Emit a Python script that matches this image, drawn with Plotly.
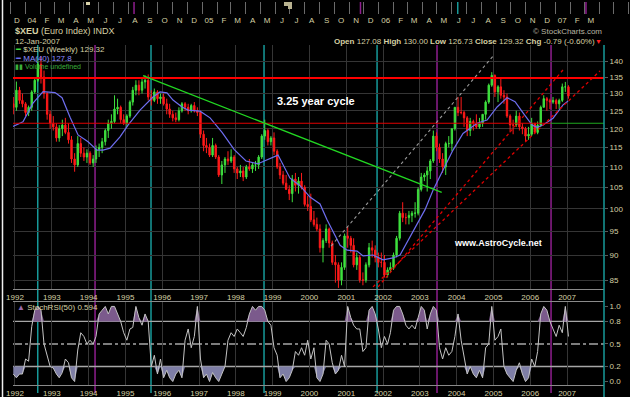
import plotly.graph_objects as go
import pandas as pd
from datetime import datetime

def yr(d):
    y = int(d)
    s = datetime(y, 1, 1)
    e = datetime(y + 1, 1, 1)
    return s + (e - s) * (d - y)

# ---------------- data ----------------
months = list(pd.date_range('1991-12-01', periods=182, freq='MS') + pd.Timedelta(days=14))

opens = [127,
 126,131,128,127,124.5,126,130.5,134,139,135,130,124,
 121.5,120.5,117.5,120,121,119,117,112,110.5,116,113.5,112.5,
 113.5,111,112,114.5,115,116.5,119.5,121.5,122,125.5,126,122.5,
 121.5,123.5,127.5,131,132.5,131,133.5,134,129,128,130.5,128.5,
 129,127,125.5,124,123,122.5,125,127,126,125,126.5,125,
 124.5,118.5,115.5,115,113,115.5,112.5,108,110.5,112,111.5,112.5,
 109.5,108.5,109,107.5,110,109.5,110.5,110.5,112.5,118,119.5,116.5,
 117.5,114,110,108,106,104.5,103.5,107,105.5,106.5,105,101,
 100.5,97.5,96.5,95.5,91.5,93,95.5,92.5,88.5,88,85,87.5,
 94,93.5,92,88,89.5,85,85,88,91.5,91,89.5,88.5,
 88.5,86,87,87.5,90,93.5,99,98,98,98.5,99,99,
 104.5,107.5,108,109,111.5,118,115,112,110,116,116,120,
 126,124.5,124.5,123,119.5,122,121.5,120.5,121.5,124,127.5,132.5,
 135.5,130.5,132,129.5,129,123.5,121,121,123.5,120.5,120,118,
 118.5,121.5,119,121,126,128.5,128,127.5,128,127,128,132,
 132]
highs = [129,
 133.6,132,130,127.5,126.5,131,135,140,141.5,137,130.5,125,
 123.5,121.5,121,122.5,123,121.5,118,113.5,118,117.5,115,114.5,
 114,113,115.5,116,117.5,120,122.5,124,129.5,128.5,126.5,124,
 124,128,132,134,134,134.5,135.5,135.8,131,131.5,131,130,
 130,128.5,127,125,124.5,126,127.5,127.5,127,127,127.5,126,
 125,119.5,117.5,116,117.5,116,113,111.5,112.5,114,114.5,113,
 110,110.5,110,110.5,112,111,111.5,113,118.5,122.5,120,118,
 119,114.5,111,109,108,105.5,108,108.5,107.5,108.5,105.5,103,
 103.5,99.5,98,96.5,93.5,96.5,95.8,93,90,88.5,88.5,94.5,
 96,94,93.5,90.5,90,86.5,88.5,92.5,93,92,90.5,90.5,
 90,87.5,88.5,90.5,94,99.5,101.5,99,99.5,99.5,101.5,105,
 108.5,108.5,110,112,119.5,119,116,113.5,116.5,118,120,126,
 129,129,125,123.5,123,122.5,124,123,124,128,133,136.5,
 135.8,132.5,134.5,131,130,124,122.5,125,124.5,121.5,120.5,120.5,
 123,121.5,122,126.5,129.5,129,128.5,129,128.5,128.5,133,133.5,
 132.5]
lows = [124,
 125,127,126,123.5,123.5,125,130,133.5,133,128.5,122.5,120,
 119.5,116.5,116.5,118,118.5,116,111,108.8,110,112.5,111.5,111,
 110.5,110,111,112.5,113.5,115.5,117.5,120,121.5,124,121.5,121,
 120.5,123,126.5,129.5,129.5,130,131.5,128,126.5,127.5,127,127,
 126.5,124,123,122,121.8,122,124.5,125,124,124.5,124.5,123.5,
 117.5,114,113.5,112.5,112.5,112,107.5,105.8,108.5,110.5,111,108.5,
 107,107.5,106.5,107,109,108.5,109,109.5,112,117,115.5,115.5,
 113,109.5,107,105.5,104.5,102,101.5,104,103.5,104.5,100.5,99.5,
 97,96,95,90.5,88.5,92.5,91.5,88,84.5,83.5,84,87,
 91.5,90.5,87.5,87,84.5,84,84.5,87.5,89.5,88.5,87.5,87.5,
 85.5,85.5,86.5,87,89.5,93,97,96.5,96.5,97,98,98.5,
 104,106.5,104,107,111,114,111,108.5,108,115,114,119.5,
 123.5,124,120.5,118,118,119.5,120,120,120.5,122.5,127,132,
 129,127.5,128.5,127,123,119,118.5,120.5,119.5,118.5,116.5,117,
 118,118.5,118.5,120.5,126,125,125.5,127,125.5,125.5,127.5,130.5,
 128.5]
closes = [126,
 131,128,127,124.5,126,130.5,134,139,135,130,124,121.5,
 120.5,117.5,120,121,119,117,112,110.5,116,113.5,112.5,113.5,
 111,112,114.5,115,116.5,119.5,121.5,122,125.5,126,122.5,121.5,
 123.5,127.5,131,132.5,131,133.5,134,129,128,130.5,128.5,129,
 127,125.5,124,123,122.5,125,127,126,125,126.5,125,124.5,
 118.5,115.5,115,113,115.5,112.5,108,110.5,112,111.5,112.5,109.5,
 108.5,109,107.5,110,109.5,110.5,110.5,112.5,118,119.5,116.5,117.5,
 114,110,108,106,104.5,103.5,107,105.5,106.5,105,101,100.5,
 97.5,96.5,95.5,91.5,93,95.5,92.5,88.5,88,85,87.5,94,
 93.5,92,88,89.5,85,85,88,91.5,91,89.5,88.5,88.5,
 86,87,87.5,90,93.5,99,98,98,98.5,99,99,104.5,
 107.5,108,109,111.5,118,115,112,110,116,116,120,126,
 124.5,124.5,123,119.5,122,121.5,120.5,121.5,124,127.5,132.5,135.5,
 130.5,132,129.5,129,123.5,121,121,123.5,120.5,120,118,118.5,
 121.5,119,121,126,128.5,128,127.5,128,127,128,132,132,
 129.3]

stoch_rsi = [0.10,
 0.05,0.10,0.10,0.30,0.27,0.73,0.95,1.00,0.95,0.50,0.35,0.20,
 0.18,0.10,0.05,0.12,0.30,0.25,0.05,0.00,0.42,0.65,0.60,0.50,
 0.55,0.50,0.60,0.90,0.95,1.00,0.90,1.00,1.00,0.90,0.80,0.65,
 0.55,0.70,0.72,1.00,0.85,0.75,0.90,0.80,0.20,0.35,0.10,0.30,
 0.05,0.15,0.05,0.00,0.10,0.15,0.05,0.55,0.70,0.45,0.60,1.00,
 0.30,0.05,0.10,0.00,0.12,0.05,0.00,0.10,0.20,0.55,0.65,0.60,
 0.70,0.65,0.60,0.72,0.90,1.00,0.95,1.00,1.00,0.95,0.80,0.75,
 0.45,0.35,0.05,0.10,0.00,0.05,0.15,0.40,0.35,0.45,0.35,0.55,
 0.30,0.45,0.05,0.00,0.10,0.55,0.50,0.25,0.10,0.15,0.35,0.20,
 1.00,0.85,0.75,0.70,0.70,0.40,0.45,0.95,1.00,0.90,0.70,0.45,
 0.60,0.50,0.65,0.95,1.00,1.00,0.90,0.75,0.70,0.75,0.70,0.85,
 1.00,0.95,0.70,0.90,1.00,0.95,0.45,0.30,0.45,0.35,0.40,0.60,
 0.90,0.55,0.35,0.10,0.20,0.10,0.05,0.15,0.05,0.45,0.50,1.00,
 0.55,0.60,0.70,0.20,0.10,0.05,0.00,0.15,0.25,0.10,0.00,0.05,
 0.30,0.20,0.40,0.90,1.00,0.95,0.80,0.70,0.60,0.75,0.65,1.00,
 0.60]

ma40_years = [1991.946,1992.217,1992.489,1992.761,1993.087,1993.277,1993.495,1993.712,
 1993.984,1994.228,1994.391,1994.582,1994.853,1995.071,1995.397,1995.750,1995.940,
 1996.130,1996.293,1996.538,1996.701,1997.027,1997.299,1997.625,1997.951,1998.277,
 1998.603,1998.875,1999.147,1999.473,1999.745,2000.016,2000.288,2000.478,2000.641,
 2000.832,2001.022,2001.293,2001.457,2001.728,2002.0,2002.272,2002.462,2002.815,
 2003.141,2003.359,2003.630,2003.902,2004.174,2004.554,2004.826,2005.098,2005.370,
 2005.587,2005.804,2006.049,2006.185,2006.348,2006.620,2006.891,2007.03]
ma40_values = [120.6,121.9,127.2,130.6,130.3,128.8,123.2,118.3,
 116.5,114.3,114.3,114.8,117.8,121.0,125.2,129.0,130.5,
 130.2,128.1,126.1,125.2,124.9,123.0,119.0,114.5,111.5,
 110.8,112.0,113.0,107.2,105.4,102.7,101.1,97.5,94.9,
 92.0,91.0,90.8,89.8,90.0,89.0,89.4,90.0,95.0,
 99.8,104.3,109.3,114.3,118.7,121.5,122.4,126.1,128.8,
 127.6,124.4,121.0,120.4,121.0,122.9,126.7,127.8]

green_trend_t = [1995.478, 2003.595]; green_trend_p = [135.4, 103.8]
gray_trend_t = [2000.587, 2004.989]; gray_trend_p = [91.85, 141.6]
red_a_t = [2001.864, 2006.891]; red_a_p = [83.7, 137.2]
red_b_t = [2001.728, 2007.897]; red_b_p = [83.7, 136.9]
resistance_level = 134.7
support_level = 121.5
support_red_end = 2006.55
teal_cycles = [1992.617, 1995.696, 1998.766, 2001.837]
purple_cycles = [1994.174, 2003.467, 2006.565]

year_ticks = [str(y) for y in range(1992, 2008)]
price_ticks = [85, 90, 95, 100, 105, 110, 115, 120, 125, 130, 135, 140]
osc_ticks = [0.0, 0.2, 0.5, 0.8, 1.0]
top_month_labels = ['D','04','F','M','A','M','J','J','A','S','O','N',
                    'D','05','F','M','A','M','J','J','A','S','O','N',
                    'D','06','F','M','A','M','J','J','A','S','O','N',
                    'D','07','F','M']

# ---------------- styling ----------------
BEIGE = '#d6d0a4'
GRID = '#353535'
TEAL = '#179a9a'
PURPLE = '#8e1e8e'
FONT = 'Liberation Sans'
W, H = 630, 397
X0, X1 = 13 / W, 604 / W
PY0, PY1 = 1 - 289 / H, 1 - 45 / H
OY0, OY1 = 1 - 385 / H, 1 - 301.7 / H
xr = [yr(1991.946), yr(2008.005)]

fig = go.Figure()

fig.add_trace(go.Candlestick(
    x=months, open=opens, high=highs, low=lows, close=closes,
    xaxis='x', yaxis='y', whiskerwidth=0,
    increasing=dict(line=dict(color='#3ee03e', width=1), fillcolor='#3ee03e'),
    decreasing=dict(line=dict(color='#ff1a1a', width=1), fillcolor='#ff1a1a'),
    hoverinfo='skip'))

fig.add_trace(go.Scatter(x=[yr(t) for t in ma40_years], y=ma40_values, mode='lines',
                         line=dict(color='#6e6ef0', width=1.2), xaxis='x', yaxis='y'))

fig.add_trace(go.Scatter(x=xr, y=[resistance_level] * 2, mode='lines',
                         line=dict(color='#ff0000', width=2), xaxis='x', yaxis='y'))
fig.add_trace(go.Scatter(x=[yr(support_red_end), xr[1]], y=[support_level] * 2, mode='lines',
                         line=dict(color='#1fa81f', width=1.2), xaxis='x', yaxis='y'))
fig.add_trace(go.Scatter(x=[xr[0], yr(support_red_end)], y=[support_level] * 2, mode='lines',
                         line=dict(color='#e00000', width=1.2), xaxis='x', yaxis='y'))

fig.add_trace(go.Scatter(x=[yr(t) for t in green_trend_t], y=green_trend_p, mode='lines',
                         line=dict(color='#22d822', width=1.3), xaxis='x', yaxis='y'))
fig.add_trace(go.Scatter(x=[yr(t) for t in gray_trend_t], y=gray_trend_p, mode='lines',
                         line=dict(color='#9a9a9a', width=1.1, dash='dot'), xaxis='x', yaxis='y'))
fig.add_trace(go.Scatter(x=[yr(t) for t in red_a_t], y=red_a_p, mode='lines',
                         line=dict(color='#e00000', width=1.3, dash='dot'), xaxis='x', yaxis='y'))
fig.add_trace(go.Scatter(x=[yr(t) for t in red_b_t], y=red_b_p, mode='lines',
                         line=dict(color='#e00000', width=1.3, dash='dot'), xaxis='x', yaxis='y'))

hi_part = [max(v, 0.8) for v in stoch_rsi]
lo_part = [min(v, 0.2) for v in stoch_rsi]
fig.add_trace(go.Scatter(x=months, y=[0.8] * len(months), mode='lines', line=dict(width=0),
                         xaxis='x2', yaxis='y2'))
fig.add_trace(go.Scatter(x=months, y=hi_part, mode='lines', line=dict(width=0), fill='tonexty',
                         fillcolor='#7b5a8c', xaxis='x2', yaxis='y2'))
fig.add_trace(go.Scatter(x=months, y=[0.2] * len(months), mode='lines', line=dict(width=0),
                         xaxis='x2', yaxis='y2'))
fig.add_trace(go.Scatter(x=months, y=lo_part, mode='lines', line=dict(width=0), fill='tonexty',
                         fillcolor='#7e7ea6', xaxis='x2', yaxis='y2'))
fig.add_trace(go.Scatter(x=months, y=stoch_rsi, mode='lines',
                         line=dict(color='#c4c4c4', width=1), xaxis='x2', yaxis='y2'))

fig.add_trace(go.Scatter(x=[datetime(2004, 1, 1)], y=[0.5], mode='markers',
                         marker=dict(opacity=0), xaxis='x3', yaxis='y3'))

axis_font = dict(family=FONT, size=8, color=BEIGE)
fig.update_layout(
    template='none',
    width=W, height=H, margin=dict(l=0, r=0, t=0, b=0, pad=0, autoexpand=False),
    paper_bgcolor='black', plot_bgcolor='black', showlegend=False,
    font=dict(family=FONT, size=8, color=BEIGE),
    xaxis=dict(domain=[X0, X1], anchor='y', type='date', range=xr, automargin=False,
               tickvals=[f'{y}-01-01' for y in range(1992, 2008)], ticktext=year_ticks,
               showgrid=True, gridcolor=GRID, gridwidth=1, ticks='', tickfont=axis_font,
               showline=True, linecolor='#8a8a8a', linewidth=1, zeroline=False,
               rangeslider=dict(visible=False)),
    yaxis=dict(domain=[PY0, PY1], anchor='x', type='log', automargin=False,
               range=[1.9206, 2.1620], side='right',
               tickvals=price_ticks, ticktext=[str(v) for v in price_ticks],
               showgrid=True, gridcolor=GRID, ticks='outside', ticklen=3,
               tickcolor='#5a5a5a', tickfont=axis_font, zeroline=False, showline=False),
    xaxis2=dict(domain=[X0, X1], anchor='y2', type='date', range=xr, automargin=False,
                tickvals=[f'{y}-01-01' for y in range(1992, 2008)], ticktext=year_ticks,
                showgrid=True, gridcolor=GRID, ticks='', tickfont=axis_font,
                showline=True, mirror=True, linecolor='#8a8a8a', linewidth=1, zeroline=False),
    yaxis2=dict(domain=[OY0, OY1], anchor='x2', range=[-0.046, 1.063], side='right',
                automargin=False,
                tickvals=osc_ticks, ticktext=['0.0', '0.2', '0.5', '0.8', '1.0'],
                showgrid=False, ticks='outside', ticklen=3, tickcolor='#5a5a5a',
                tickfont=axis_font, zeroline=False, showline=False),
    xaxis3=dict(domain=[0, 1], anchor='y3', type='date', automargin=False,
                range=[datetime(2003, 11, 10), datetime(2007, 6, 4)],
                tickvals=list(pd.date_range('2003-12-01', periods=40, freq='MS') + pd.Timedelta(days=14)),
                ticktext=top_month_labels, showgrid=False, ticks='', tickfont=axis_font,
                minor=dict(showgrid=True, gridcolor='#6a6a6a', dtick='M1', tick0='2003-12-01'),
                zeroline=False, showline=False),
    yaxis3=dict(domain=[1 - 14 / H, 1 - 2 / H], anchor='x3', range=[0, 1], visible=False,
                automargin=False),
)

shapes = []
for t in teal_cycles:
    shapes.append(dict(type='line', xref='x', yref='paper', x0=yr(t), x1=yr(t), y0=OY0 - 0.02, y1=PY1,
                       line=dict(color=TEAL, width=1.5), layer='below'))
for t in purple_cycles:
    shapes.append(dict(type='line', xref='x', yref='paper', x0=yr(t), x1=yr(t), y0=OY0 - 0.02, y1=PY1,
                       line=dict(color=PURPLE, width=1.5), layer='below'))
for lv, dash in [(0.8, 'solid'), (0.2, 'solid'), (0.5, 'dashdot')]:
    shapes.append(dict(type='line', xref='x2 domain', yref='y2', x0=0, x1=1, y0=lv, y1=lv,
                       line=dict(color='#a6a6a6', width=1.3, dash=dash), layer='below'))
shapes.append(dict(type='line', xref='paper', yref='paper', x0=X1, x1=X1, y0=0, y1=PY1,
                   line=dict(color=TEAL, width=1.5)))
shapes.append(dict(type='line', xref='paper', yref='paper', x0=2.5 / W, x1=2.5 / W, y0=0, y1=1,
                   line=dict(color='#f0f0f0', width=1.5)))
for d, c in [(datetime(2004, 8, 13), PURPLE), (datetime(2005, 11, 24), PURPLE),
             (datetime(2007, 3, 5), PURPLE), (datetime(2006, 6, 13), TEAL)]:
    shapes.append(dict(type='line', xref='x3', yref='y3', x0=d, x1=d, y0=0, y1=1,
                       line=dict(color=c, width=1.5)))
# small icons in the top strip
shapes.append(dict(type='rect', xref='paper', yref='paper', x0=86 / W, x1=90 / W,
                   y0=1 - 5 / H, y1=1 - 2 / H, fillcolor='#d8d2a8', line=dict(width=0)))
shapes.append(dict(type='rect', xref='paper', yref='paper', x0=284 / W, x1=292 / W,
                   y0=1 - 6 / H, y1=1 - 2 / H, fillcolor='#b8b290', line=dict(width=0)))
shapes.append(dict(type='rect', xref='paper', yref='paper', x0=288 / W, x1=292 / W,
                   y0=1 - 9 / H, y1=1 - 6 / H, fillcolor='#b8b290', line=dict(width=0)))
fig.update_layout(shapes=shapes)

def ann(x, y, text, size=8, color=BEIGE, anchor='left'):
    fig.add_annotation(x=x / W, y=1 - y / H, xref='paper', yref='paper', text=text,
                       showarrow=False, xanchor=anchor, yanchor='middle',
                       font=dict(family=FONT, size=size, color=color))

ann(13, 31, '<b>$XEU</b> (Euro Index) INDX', size=9)
ann(13, 41, '12-Jan-2007', size=8)
ann(13, 50, '<span style="color:#3ee03e">━</span> $XEU (Weekly) 129.32', size=8)
ann(13, 58, '<span style="color:#6e6ef0">━</span> <span style="color:#8c8cff">MA(40) 127.8</span>', size=8)
ann(13, 66, '<span style="color:#3bb03b">▮▮ Volume undefined</span>', size=7)
ann(604, 32, '© StockCharts.com', size=8, color='#b8b4a0', anchor='right')
ann(597, 42, '<b>Open</b> 127.08 <b>High</b> 130.00 <b>Low</b> 126.73 <b>Close</b> 129.32 <b>Chg</b> -0.79 (-0.60%)',
    size=8, anchor='right')
ann(604, 42, '<span style="color:#ff2020">▼</span>', size=7, anchor='right')
ann(275, 101, '<b>3.25 year cycle</b>', size=11, color='#ffffff')
ann(452, 243, '<b>www.AstroCycle.net</b>', size=9, color='#ffffff')
ann(15, 307, '<span style="color:#9a6aaa">▲</span> StochRSI(50) 0.594', size=8)

fig.write_html('out.html', config={'displayModeBar': False},
               post_script="document.body.style.margin='0px';document.body.style.padding='0px';document.body.style.overflow='hidden';")
